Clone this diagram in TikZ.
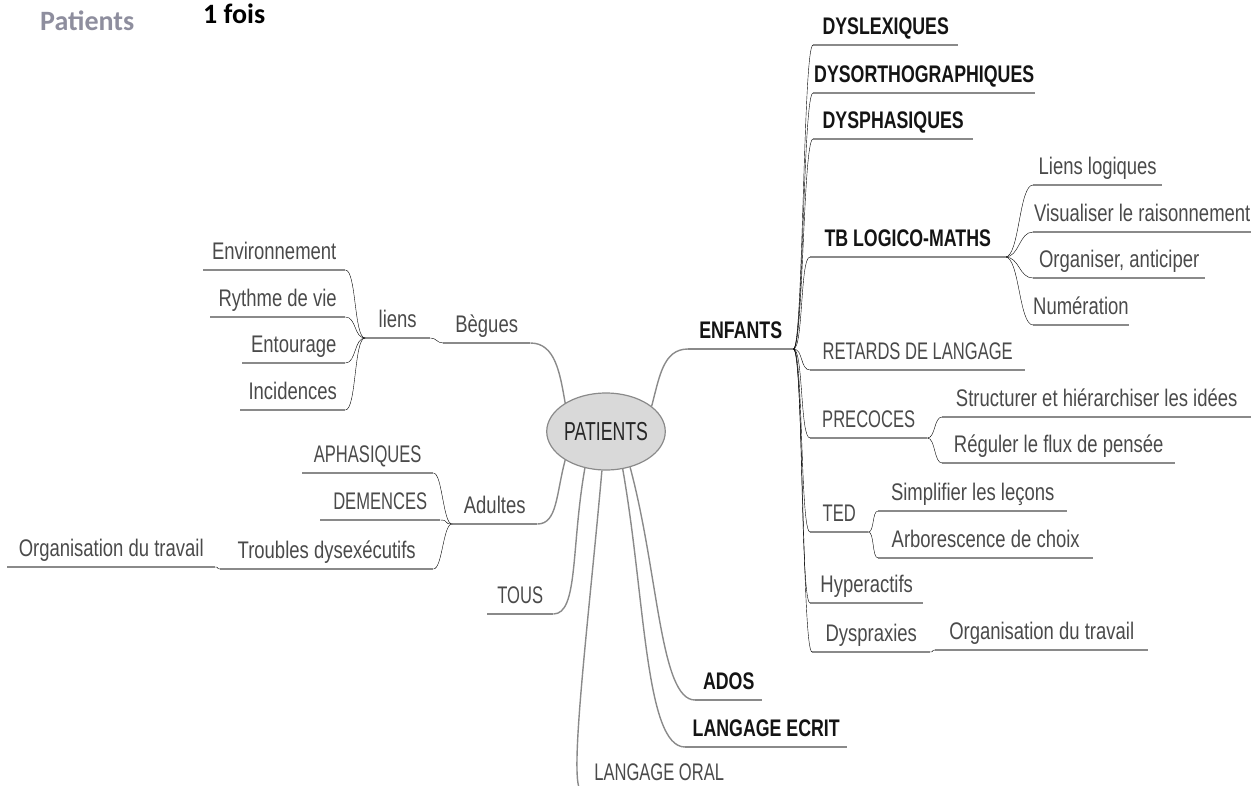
\documentclass[tikz,border=0pt]{standalone}
\usepackage{fontspec}
\usetikzlibrary{shapes.geometric}
\setmainfont{Liberation Sans}
\newfontfamily\lblfont[FakeStretch=0.77]{Liberation Sans}
\newfontfamily\capsfont[FakeStretch=0.69]{Liberation Sans}
\newfontfamily\heavyfont[FakeStretch=0.74]{Liberation Sans}
\newfontfamily\hubfont[FakeStretch=0.68]{Liberation Sans}
\newfontfamily\titlefont{Carlito}

\definecolor{lbl}{HTML}{4A4A4A}
\definecolor{wire}{HTML}{8A8A8A}
\definecolor{hub}{HTML}{D9D9D9}
\definecolor{ttl}{HTML}{8E8E9E}

\tikzset{
  topic/.style={anchor=south west, inner xsep=0pt, inner ysep=0pt,
    text height=17pt, text depth=10pt, text=lbl,
    font=\lblfont\fontsize{24}{28}\selectfont},
  capstopic/.style={topic, font=\capsfont\fontsize{24}{28}\selectfont},
  strong/.style={topic, text=black!92, font=\heavyfont\bfseries\fontsize{24}{28}\selectfont},
  wire/.style={draw=wire, line width=1.4pt},
  rconn/.style={wire, out=0, in=180, out distance=#1, in distance=#1},
  rconn/.default=10pt,
  lconn/.style={wire, out=180, in=0, out distance=#1, in distance=#1},
  lconn/.default=10pt,
}

\begin{document}
\begin{tikzpicture}[x=1pt, y=-1pt]
\useasboundingbox (0,0) rectangle (1251,785);
\clip (0,0) rectangle (1251,785);

% heading
\node[anchor=base west, inner sep=0pt, text=ttl,
  font=\titlefont\bfseries\fontsize{28}{32}\selectfont] (head) at (40,30) {Patients};
\node[anchor=base west, inner sep=0pt, text=black,
  font=\titlefont\bfseries\fontsize{28}{32}\selectfont] (freq) at (203,23) {1 fois};

% central topic
\node[ellipse, draw=wire, line width=1.2pt, fill=hub, minimum width=108pt,
  minimum height=77pt, inner sep=0pt, text=black!85,
  font=\hubfont\fontsize{26}{30}\selectfont] (patients) at (606,431.5) {PATIENTS};

% right side: ENFANTS
\node[strong, minimum width=105pt] (enfants) at (688,349) {ENFANTS};
\node[strong, minimum width=145pt] (dyslex) at (813,45) {DYSLEXIQUES};
\node[strong, minimum width=222pt] (dysortho) at (813,93) {DYSORTHOGRAPHIQUES};
\node[strong, minimum width=160pt] (dysphas) at (813,139) {DYSPHASIQUES};
\node[strong, minimum width=195pt] (logico) at (810,257) {TB LOGICO-MATHS};
\node[topic, minimum width=129pt] (lienslog) at (1033,185) {Liens logiques};
\node[topic, minimum width=218pt] (visual) at (1033,232) {Visualiser le raisonnement};
\node[topic, minimum width=172pt] (organiser) at (1033,278) {Organiser, anticiper};
\node[topic, minimum width=95pt] (numeration) at (1033,325) {Numération};
\node[capstopic, minimum width=215pt] (retards) at (810,370) {RETARDS DE LANGAGE};
\node[capstopic, minimum width=117pt] (precoces) at (810,438) {PRECOCES};
\node[topic, minimum width=309pt] (structurer) at (942,417) {Structurer et hiérarchiser les idées};
\node[topic, minimum width=233pt] (reguler) at (942,463) {Réguler le flux de pensée};
\node[capstopic, minimum width=58pt] (ted) at (810,532) {TED};
\node[topic, minimum width=189pt] (simplifier) at (878,511) {Simplifier les leçons};
\node[topic, minimum width=215pt] (arbo) at (878,558) {Arborescence de choix};
\node[topic, minimum width=113pt] (hyper) at (810,603) {Hyperactifs};
\node[topic, minimum width=118pt] (dyspraxies) at (812,652) {Dyspraxies};
\node[topic, minimum width=213pt] (orgR) at (935,650) {Organisation du travail};

% lower branches
\node[strong, minimum width=67pt] (ados) at (695,700) {ADOS};
\node[strong, minimum width=162pt] (ecrit) at (685,747) {LANGAGE ECRIT};
\node[capstopic, minimum width=154pt] (oral) at (582,791) {LANGAGE ORAL};
\node[capstopic, minimum width=66pt] (tous) at (487,614) {TOUS};

% left side: Bègues
\node[topic, minimum width=87pt] (begues) at (443,343) {Bègues};
\node[topic, minimum width=65pt] (liens) at (365,338) {liens};
\node[topic, minimum width=142pt] (env) at (203,270) {Environnement};
\node[topic, minimum width=135pt] (rythme) at (210,317) {Rythme de vie};
\node[topic, minimum width=103pt] (entourage) at (242,363) {Entourage};
\node[topic, minimum width=105pt] (incidences) at (240,410) {Incidences};

% left side: Adultes
\node[topic, minimum width=85pt] (adultes) at (452,524) {Adultes};
\node[capstopic, minimum width=131pt] (aphasiques) at (302,473) {APHASIQUES};
\node[capstopic, minimum width=120pt] (demences) at (320,520) {DEMENCES};
\node[topic, minimum width=213pt] (troubles) at (220,569) {Troubles dysexécutifs};
\node[topic, minimum width=208pt] (orgL) at (7,567) {Organisation du travail};

% underlines
\foreach \n in {enfants,dyslex,dysortho,dysphas,logico,lienslog,visual,organiser,
  numeration,retards,precoces,structurer,reguler,ted,simplifier,arbo,hyper,
  dyspraxies,orgR,ados,ecrit,oral,tous,begues,liens,env,rythme,entourage,
  incidences,adultes,aphasiques,demences,troubles,orgL}
  \draw[wire] (\n.south west) -- (\n.south east);

% branches from the central topic
\draw[wire] (patients.145) to[out=100, in=0, out distance=30pt, in distance=25pt] (begues.south east);
\draw[wire] (patients.29) to[out=75, in=180, out distance=30pt, in distance=25pt] (enfants.south west);
\draw[wire] (patients.215) to[out=-105, in=0, out distance=35pt, in distance=20pt] (adultes.south east);
\draw[wire] (patients.240) to[out=-100, in=0, out distance=80pt, in distance=25pt] (tous.south east);
\draw[wire] (patients.264) to[out=-95, in=180, out distance=150pt, in distance=15pt] (oral.south west);
\draw[wire] (patients.294) to[out=-80, in=180, out distance=130pt, in distance=40pt] (ecrit.south west);
\draw[wire] (patients.304) to[out=-75, in=180, out distance=110pt, in distance=35pt] (ados.south west);

% ENFANTS sub-branches
\foreach \n in {dyslex,dysortho,dysphas,logico,retards,precoces,ted,hyper,dyspraxies}
  \draw (enfants.south east) to[rconn=10pt] (\n.south west);
\foreach \n in {lienslog,visual,organiser,numeration}
  \draw (logico.south east) to[rconn=14pt] (\n.south west);
\foreach \n in {structurer,reguler}
  \draw (precoces.south east) to[rconn=8pt] (\n.south west);
\foreach \n in {simplifier,arbo}
  \draw (ted.south east) to[rconn=6pt] (\n.south west);
\draw (dyspraxies.south east) to[rconn=4pt] (orgR.south west);

% Bègues sub-branches
\draw (begues.south west) to[lconn=6pt] (liens.south east);
\foreach \n in {env,rythme,entourage,incidences}
  \draw (liens.south west) to[lconn=11pt] (\n.south east);

% Adultes sub-branches
\foreach \n in {aphasiques,demences,troubles}
  \draw (adultes.south west) to[lconn=9pt] (\n.south east);
\draw (troubles.south west) to[lconn=4pt] (orgL.south east);
\end{tikzpicture}
\end{document}
